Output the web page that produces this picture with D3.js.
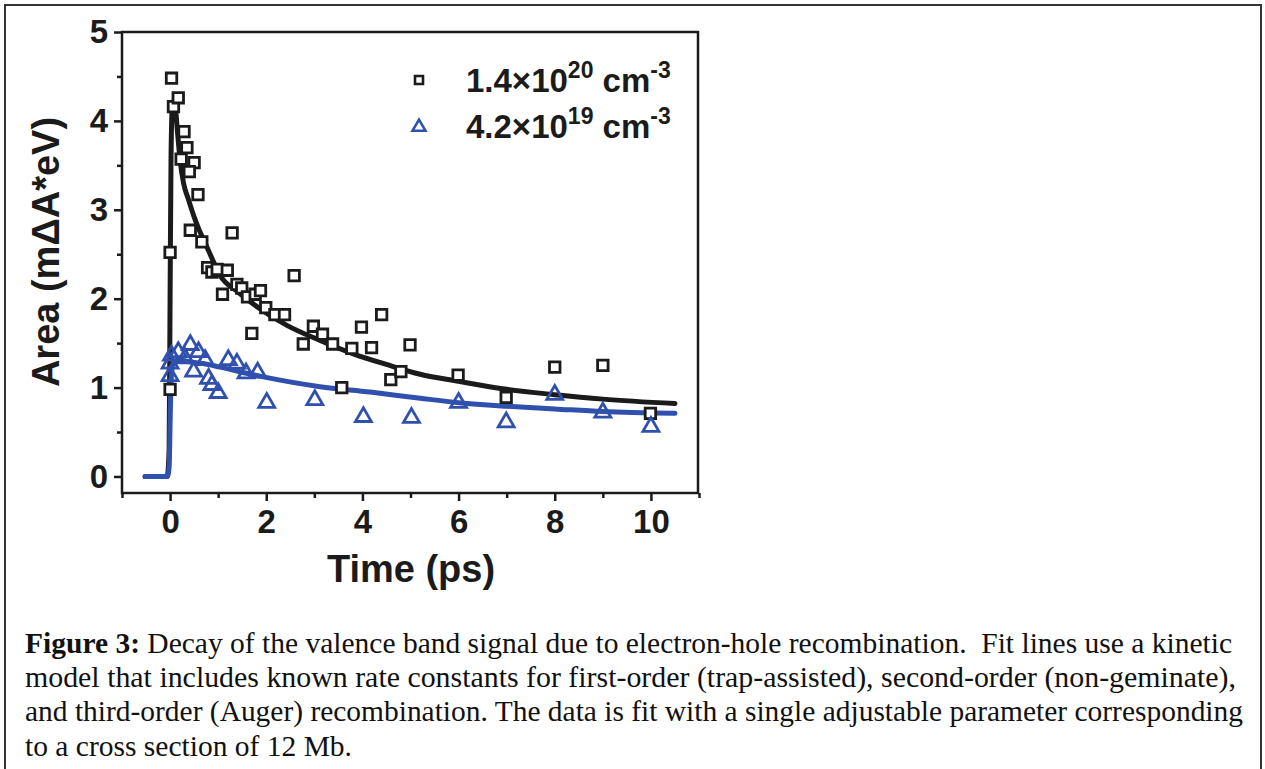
<!DOCTYPE html>
<html><head><meta charset="utf-8">
<script src="https://cdn.jsdelivr.net/npm/d3@7"></script>
<style>body{margin:0;background:#fff;}svg{display:block;}</style>
</head><body>
<svg id="c" width="1265" height="769"></svg>
<script>
// ---- data ----
const xTicks = [0, 2, 4, 6, 8, 10];
const yTicks = [0, 1, 2, 3, 4, 5];
const xMinorTicks = [-1, 1, 3, 5, 7, 9, 11];
const yMinorTicks = [0.5, 1.5, 2.5, 3.5, 4.5];

// 1.4e20 cm^-3 (squares)
const highTime = [0.00, 0.00, 0.03, 0.07, 0.17, 0.29, 0.35, 0.23, 0.50, 0.40, 0.58, 0.42, 0.66, 1.29, 0.78, 0.87, 0.98, 1.19, 2.58, 1.39, 1.49, 1.09, 1.61, 1.77, 1.88, 1.99, 2.18, 2.38, 1.70, 2.98, 3.17, 3.38, 2.77, 3.78, 4.19, 3.98, 4.40, 4.99, 4.59, 4.80, 3.57, 5.99, 6.99, 8.00, 9.00, 9.99];
const highArea = [0.98, 2.52, 4.48, 4.16, 4.26, 3.88, 3.70, 3.57, 3.53, 3.43, 3.17, 2.77, 2.64, 2.74, 2.35, 2.30, 2.33, 2.32, 2.26, 2.16, 2.12, 2.05, 2.02, 2.05, 2.09, 1.90, 1.82, 1.82, 1.61, 1.69, 1.60, 1.49, 1.49, 1.44, 1.45, 1.68, 1.82, 1.48, 1.09, 1.18, 1.00, 1.14, 0.89, 1.23, 1.25, 0.71];

// 4.2e19 cm^-3 (triangles)
const lowTime = [0.00, 0.00, 0.03, 0.17, 0.42, 0.59, 0.31, 0.73, 0.49, 0.80, 0.87, 1.00, 1.21, 1.39, 1.58, 1.82, 2.01, 3.01, 4.02, 5.02, 6.00, 6.99, 8.00, 9.00, 10.00];
const lowArea = [1.13, 1.27, 1.36, 1.40, 1.48, 1.40, 1.33, 1.31, 1.18, 1.10, 1.03, 0.94, 1.31, 1.27, 1.16, 1.17, 0.83, 0.86, 0.67, 0.66, 0.83, 0.61, 0.92, 0.72, 0.56];

// kinetic-model fit lines
const fitHighTime = [-0.52, -0.06, -0.02, 0.00, 0.02, 0.05, 0.08, 0.11, 0.15, 0.21, 0.28, 0.38, 0.50, 0.60, 0.70, 0.80, 1.04, 1.40, 1.73, 2.43, 3.12, 3.81, 4.50, 5.20, 6.00, 7.00, 8.00, 9.00, 10.50];
const fitHighArea = [0.00, 0.00, 0.30, 2.00, 3.60, 4.20, 4.22, 4.15, 3.90, 3.55, 3.30, 3.12, 2.92, 2.78, 2.66, 2.54, 2.26, 2.08, 1.94, 1.70, 1.53, 1.38, 1.26, 1.15, 1.07, 0.98, 0.92, 0.87, 0.82];
const fitLowTime = [-0.52, -0.06, -0.02, 0.00, 0.02, 0.05, 0.10, 0.20, 0.40, 0.69, 1.04, 1.94, 3.12, 4.16, 5.20, 6.00, 7.00, 8.00, 9.00, 10.50];
const fitLowArea = [0.00, 0.00, 0.10, 0.60, 1.05, 1.25, 1.30, 1.31, 1.29, 1.27, 1.23, 1.12, 1.01, 0.95, 0.88, 0.83, 0.79, 0.76, 0.73, 0.71];

const captionLines = [
  ["Figure 3:", " Decay of the valence band signal due to electron-hole recombination.  Fit lines use a kinetic"],
  ["", "model that includes known rate constants for first-order (trap-assisted), second-order (non-geminate),"],
  ["", "and third-order (Auger) recombination. The data is fit with a single adjustable parameter corresponding"],
  ["", "to a cross section of 12 Mb."]
];
const captionWidths = [1207, 1211, 1218, 327];

// ---- drawing ----
const svg = d3.select("#c");
const BLACK = "#1b1b1b", BLUE = "#3050ae";
const FONT = "Liberation Sans, Arial, sans-serif";

// outer page border
svg.append("rect").attr("x", 5).attr("y", 5).attr("width", 1256).attr("height", 780)
  .attr("fill", "none").attr("stroke", "#333").attr("stroke-width", 2);

const L = 122, R = 698, T = 32, B = 493;
const x = d3.scaleLinear().domain([-1, 11]).range([L, R + 1]);
const y = d3.scaleLinear().domain([-0.186, 5]).range([B, T]);

// axes
const gx = svg.append("g").attr("transform", `translate(0,${B})`)
  .call(d3.axisBottom(x).tickValues(xTicks).tickSize(8).tickPadding(8).tickFormat(d3.format("d")));
const gxm = svg.append("g").attr("transform", `translate(0,${B})`)
  .call(d3.axisBottom(x).tickValues(xMinorTicks).tickSize(5).tickFormat(""));
const gy = svg.append("g").attr("transform", `translate(${L},0)`)
  .call(d3.axisLeft(y).tickValues(yTicks).tickSize(8).tickPadding(6).tickFormat(d3.format("d")));
const gym = svg.append("g").attr("transform", `translate(${L},0)`)
  .call(d3.axisLeft(y).tickValues(yMinorTicks).tickSize(5).tickFormat(""));
[gx, gxm, gy, gym].forEach(g => {
  g.select(".domain").remove();
  g.selectAll("line").attr("stroke", BLACK).attr("stroke-width", 2.5);
  g.selectAll("text").attr("fill", BLACK).style("font-family", FONT)
    .style("font-weight", "bold").style("font-size", "33px");
});
gx.selectAll("text").attr("dy", "0.72em");

// frame
svg.append("rect").attr("x", L).attr("y", T).attr("width", R - L).attr("height", B - T)
  .attr("fill", "none").attr("stroke", BLACK).attr("stroke-width", 2.5);

// axis titles
svg.append("text").attr("x", (L + R) / 2 + 1).attr("y", 582).attr("text-anchor", "middle")
  .style("font-family", FONT).style("font-weight", "bold").style("font-size", "38px")
  .attr("fill", BLACK).text("Time (ps)");
svg.append("text").attr("transform", "translate(59,252) rotate(-90)").attr("text-anchor", "middle")
  .style("font-family", FONT).style("font-weight", "bold").style("font-size", "38px")
  .attr("fill", BLACK).text("Area (m\u0394A*eV)");

// fit lines
const line = d3.line().x(d => x(d[0])).y(d => y(d[1])).curve(d3.curveMonotoneX);
svg.append("path").datum(d3.zip(fitHighTime, fitHighArea)).attr("d", line)
  .attr("fill", "none").attr("stroke", BLACK).attr("stroke-width", 5)
  .attr("stroke-linecap", "round").attr("stroke-linejoin", "round");
svg.append("path").datum(d3.zip(fitLowTime, fitLowArea)).attr("d", line)
  .attr("fill", "none").attr("stroke", BLUE).attr("stroke-width", 5)
  .attr("stroke-linecap", "round").attr("stroke-linejoin", "round");

// markers
const sq = d3.symbol().type(d3.symbolSquare).size(110);
const tri = d3.symbol().type(d3.symbolTriangle).size(110);
svg.append("g").selectAll("path").data(d3.zip(highTime, highArea)).join("path")
  .attr("d", sq).attr("transform", d => `translate(${x(d[0])},${y(d[1])})`)
  .attr("fill", "white").attr("stroke", BLACK).attr("stroke-width", 2.8);
svg.append("g").selectAll("path").data(d3.zip(lowTime, lowArea)).join("path")
  .attr("d", tri).attr("transform", d => `translate(${x(d[0])},${y(d[1])})`)
  .attr("fill", "none").attr("stroke", BLUE).attr("stroke-width", 2.8);

// legend
const legend = [
  {sym: d3.symbol().type(d3.symbolSquare).size(64), color: BLACK, fill: "white", base: "1.4\u00d710", sup: "20", cy: 80, by: 92},
  {sym: d3.symbol().type(d3.symbolTriangle).size(72), color: BLUE, fill: "none", base: "4.2\u00d710", sup: "19", cy: 127, by: 138}
];
legend.forEach(d => {
  svg.append("path").attr("d", d.sym()).attr("transform", `translate(419,${d.cy})`)
    .attr("fill", d.fill).attr("stroke", d.color).attr("stroke-width", 2.6);
  const t = svg.append("text").attr("x", 466).attr("y", d.by).attr("fill", BLACK)
    .style("font-family", FONT).style("font-weight", "bold").style("font-size", "33px");
  t.append("tspan").text(d.base);
  t.append("tspan").attr("dy", -14).style("font-size", "23px").text(d.sup);
  t.append("tspan").attr("dy", 14).text(" cm");
  t.append("tspan").attr("dy", -14).style("font-size", "23px").text("-3");
});

// caption
const cap = svg.append("g");
captionLines.forEach((ln, i) => {
  const t = cap.append("text").attr("x", 25).attr("y", 653 + i * 34.2)
    .style("font-family", "Liberation Serif, 'Times New Roman', serif").style("font-size", "29.5px")
    .style("white-space", "pre").attr("xml:space", "preserve")
    .attr("textLength", captionWidths[i]).attr("lengthAdjust", "spacingAndGlyphs")
    .attr("fill", "#111");
  if (ln[0]) t.append("tspan").style("font-weight", "bold").text(ln[0]);
  t.append("tspan").text(ln[1]);
});
</script>
</body></html>
